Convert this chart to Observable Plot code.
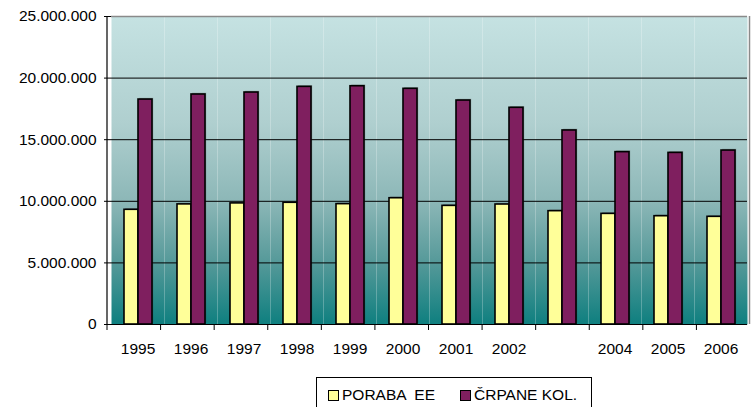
<!DOCTYPE html>
<html>
<head>
<meta charset="utf-8">
<script src="https://cdn.jsdelivr.net/npm/d3@7"></script>
<script src="https://cdn.jsdelivr.net/npm/@observablehq/plot@0.6"></script>
<style>
  body { margin: 0; background: #fff; font-family: "Liberation Sans", Arial, sans-serif; }
  #wrap { position: relative; width: 751px; height: 407px; overflow: hidden; }
  #wrap svg { font-family: "Liberation Sans", Arial, sans-serif !important; font-size: 15.5px !important; }
  #wrap svg g, #wrap svg text { font-family: "Liberation Sans", Arial, sans-serif !important; font-variant: normal !important; font-variant-numeric: normal !important; }
  #legend { position: absolute; left: 316px; top: 377px; width: 276px; height: 40px; border: 1px solid #000; box-sizing: border-box; font-size: 15.5px; }
  .item { position: absolute; top: 8px; display: flex; align-items: center; white-space: pre; }
  .sw { width: 9px; height: 9px; border: 1px solid #000; margin-right: 3px; }
</style>
</head>
<body>
<div id="wrap"></div>
<script>
const years = ["1995","1996","1997","1998","1999","2000","2001","2002","2003","2004","2005","2006"];
const yearLabels = ["1995","1996","1997","1998","1999","2000","2001","2002","","2004","2005","2006"];
const series = ["PORABA  EE", "ČRPANE KOL."];
const poraba = [9310000, 9750000, 9830000, 9880000, 9770000, 10250000, 9630000, 9740000, 9200000, 8980000, 8790000, 8740000];
const crpane = [18260000, 18670000, 18830000, 19290000, 19340000, 19130000, 18180000, 17590000, 15750000, 13990000, 13930000, 14120000];
const colors = ["#ffff99", "#7f1f5f"];
const yTicks = [0, 5000000, 10000000, 15000000, 20000000, 25000000];

const data = [];
years.forEach((y, i) => {
  data.push({year: y, series: series[0], value: poraba[i]});
  data.push({year: y, series: series[1], value: crpane[i]});
});

const fmt = d3.formatLocale({decimal: ",", thousands: ".", grouping: [3], currency: ["", ""]}).format(",");

const plot = Plot.plot({
  width: 751,
  height: 370,
  marginLeft: 107,
  marginRight: 1,
  marginTop: 16,
  marginBottom: 46,
  style: {fontFamily: "Liberation Sans", fontSize: "15.5px", color: "#000", background: "transparent"},
  fx: {domain: years, padding: 0, label: null, tickSize: 0, tickPadding: 18,
       tickFormat: d => yearLabels[years.indexOf(d)]},
  x: {domain: series, axis: null, paddingInner: 0, paddingOuter: 0.79},
  y: {domain: [0, 25000000], ticks: yTicks, tickFormat: fmt, tickSize: 7, tickPadding: 8, label: null},
  color: {domain: series, range: colors},
  marks: [
    Plot.frame({fill: "url(#bgGrad)", stroke: null}),
    Plot.ruleY(yTicks.slice(1, -1), {stroke: "#000", strokeWidth: 1}),
    Plot.ruleY([25000000], {stroke: "#8a8a8a", strokeWidth: 1.5}),
    Plot.barY(data, {fx: "year", x: "series", y: "value", fill: "#333", fillOpacity: 0.35, dx: 1.2, dy: -1.2}),
    Plot.barY(data, {fx: "year", x: "series", y: "value", fill: "series", stroke: "#000", strokeWidth: 1.6}),
    Plot.ruleY([0], {stroke: "#000", strokeWidth: 1.2})
  ]
});

// gradient definition for the plot-area background
const svg = d3.select(plot);
const defs = svg.insert("defs", ":first-child");
const g = defs.append("linearGradient").attr("id", "bgGrad").attr("x1", 0).attr("y1", 0).attr("x2", 0).attr("y2", 1);
[[0, "#c5e2e2"], [0.35, "#afcfcf"], [0.6, "#8cb7b7"], [0.8, "#559999"], [1, "#0e7f7f"]]
  .forEach(([o, c]) => g.append("stop").attr("offset", o).attr("stop-color", c));

// borders and category-boundary ticks derived from the scales
const fx = plot.scale("fx");
const ys = plot.scale("y");
const [yBottom, yTop] = ys.range;
const left = fx.range[0], right = fx.range[1];
const deco = svg.append("g");
deco.append("line").attr("x1", right - 0.5).attr("x2", right - 0.5).attr("y1", yTop).attr("y2", yBottom)
  .attr("stroke", "#8a8a8a").attr("stroke-width", 1.5);
deco.append("line").attr("x1", left).attr("x2", left).attr("y1", yTop).attr("y2", yBottom + 0.5)
  .attr("stroke", "#000").attr("stroke-width", 1.2);
const step = (right - left) / years.length;
years.forEach((y, i) => {
  const xb = left + i * step;
  deco.append("line").attr("x1", xb).attr("x2", xb).attr("y1", yBottom).attr("y2", yBottom + 6)
    .attr("stroke", "#000").attr("stroke-width", 1);
});

const wrap = document.getElementById("wrap");
wrap.appendChild(plot);

const legend = document.createElement("div");
legend.id = "legend";
const lefts = [11, 143];
series.forEach((s, i) => {
  const it = document.createElement("div");
  it.className = "item";
  it.style.left = lefts[i] + "px";
  const sw = document.createElement("span");
  sw.className = "sw";
  sw.style.background = colors[i];
  const tx = document.createElement("span");
  tx.textContent = s;
  it.appendChild(sw); it.appendChild(tx);
  legend.appendChild(it);
});
wrap.appendChild(legend);
</script>
</body>
</html>
